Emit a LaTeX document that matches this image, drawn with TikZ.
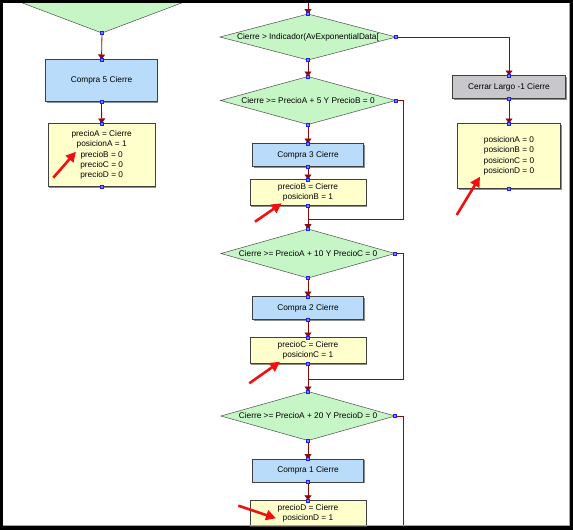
\documentclass[tikz,border=0pt]{standalone}
\usepackage{fontspec}
\setmainfont{Liberation Sans}
\usetikzlibrary{shapes.geometric,arrows.meta,shadows}
\definecolor{cgreen}{RGB}{198,246,198}
\definecolor{cblue}{RGB}{185,220,250}
\definecolor{cyellow}{RGB}{255,255,204}
\definecolor{cgray}{RGB}{200,200,204}
\definecolor{cline}{RGB}{140,10,10}
\definecolor{cport}{RGB}{30,30,240}
\definecolor{cportf}{RGB}{130,130,255}
\definecolor{cred}{RGB}{240,16,16}
\newcommand\portat[1]{\draw[port] ([shift={(-1.5,-1.5)}]#1) rectangle ([shift={(1.5,1.5)}]#1);}
\begin{document}
\begin{tikzpicture}[x=1pt,y=-1pt,
  txt/.style={font=\fontsize{8.3}{10.4}\selectfont, align=center, inner sep=0pt},
  box/.style={txt, draw=black!75, line width=0.6pt, outer sep=0pt,
    drop shadow={shadow xshift=1pt,shadow yshift=-1pt,fill=black!45,opacity=1}},
  act/.style={box, fill=cblue, minimum width=111pt, minimum height=23pt},
  grayact/.style={box, fill=cgray, minimum width=113pt, minimum height=23pt},
  note/.style={box, fill=cyellow, minimum width=116pt, minimum height=26pt},
  cond/.style={diamond, draw=black!70, line width=0.5pt, fill=cgreen, inner sep=0pt, outer sep=0pt,
    minimum width=174pt, minimum height=48pt},
  flow/.style={draw=cline, line width=0.8pt},
  arr/.style={flow, -{Triangle[length=5pt,width=7pt]}},
  port/.style={draw=cport, fill=cportf, line width=0.5pt},
  hint/.style={draw=cred, line width=2.6pt, -{Triangle[length=10pt,width=10pt]}}]
\useasboundingbox (0,0) rectangle (573,530);
\fill[black] (0,0) rectangle (573,530);
\fill[white] (3,3) rectangle (570,526);
\begin{scope}
\clip (3,3) rectangle (570,526);
% left column
\node[cond, minimum width=212pt, minimum height=80pt] (d0) at (102,-7) {};
\node[act, minimum width=111.6pt, minimum height=42pt] (c5) at (101.5,80.5) {Compra 5 Cierre};
\node[note, minimum width=107pt, minimum height=63pt] (p5) at (101.7,155) {precioA = Cierre\\posicionA = 1\\precioB = 0\\precioC = 0\\precioD = 0};
% main column
\coordinate (top) at (308,0);
\node[cond, minimum width=176pt, minimum height=46pt] (d1) at (308,37) {};
\node[txt] (d1t) at (308,37) {Cierre > Indicador(AvExponentialData[};
\node[cond, minimum width=175pt] (d2) at (308,100.5) {};
\node[txt] (d2t) at (308,100.5) {Cierre >= PrecioA + 5 Y PrecioB = 0};
\node[act] (c3) at (308,155) {Compra 3 Cierre};
\node[note] (pB) at (308,192.5) {precioB = Cierre\\posicionB = 1};
\node[cond, minimum height=49pt] (d3) at (308,253.5) {};
\node[txt] (d3t) at (308,253.5) {Cierre >= PrecioA + 10 Y PrecioC = 0};
\node[act] (c2) at (308,308) {Compra 2 Cierre};
\node[note] (pC) at (308,350.5) {precioC = Cierre\\posicionC = 1};
\node[cond, minimum height=49pt] (d4) at (308,416) {};
\node[txt] (d4t) at (308,416) {Cierre >= PrecioA + 20 Y PrecioD = 0};
\node[act] (c1) at (308,470.5) {Compra 1 Cierre};
\node[note] (pD) at (308,513.3) {precioD = Cierre\\posicionD = 1};
% right column
\node[grayact] (cl) at (509,87) {Cerrar Largo -1 Cierre};
\node[note, minimum width=103pt, minimum height=65pt] (pz) at (509,156) {posicionA = 0\\posicionB = 0\\posicionC = 0\\posicionD = 0};
\coordinate (j1) at (308,219);
\coordinate (j2) at (308,379.3);
\coordinate (e4) at (404,540);
% connectors
\draw[arr] (d0.south) -- (c5.north);
\draw[arr] (c5.south) -- (p5.north);
\draw[arr] (top) -- (d1.north);
\draw[arr] (d1.south) -- (d2.north);
\draw[arr] (d2.south) -- (c3.north);
\draw[arr] (c3.south) -- (pB.north);
\draw[arr] (pB.south) -- (d3.north);
\draw[flow] (d2.east) -- ++(8,0) |- (j1);
\draw[arr] (d3.south) -- (c2.north);
\draw[arr] (c2.south) -- (pC.north);
\draw[arr] (pC.south) -- (d4.north);
\draw[flow] (d3.east) -- ++(8,0) |- (j2);
\draw[arr] (d4.south) -- (c1.north);
\draw[arr] (c1.south) -- (pD.north);
\draw[flow] (d4.east) -- ++(8,0) |- (e4);
\draw[arr] (d1.east) -| (cl.north);
\draw[arr] (cl.south) -- (pz.north);
% ports
\portat{d0.south}\portat{c5.north}\portat{c5.south}\portat{p5.north}\portat{p5.south}
\portat{d1.north}\portat{d1.south}\portat{d1.east}
\portat{d2.north}\portat{d2.south}\portat{d2.east}
\portat{c3.north}\portat{c3.south}\portat{pB.north}\portat{pB.south}
\portat{d3.north}\portat{d3.south}\portat{d3.east}
\portat{c2.north}\portat{c2.south}\portat{pC.north}\portat{pC.south}
\portat{d4.north}\portat{d4.south}\portat{d4.east}
\portat{c1.north}\portat{c1.south}\portat{pD.north}
\portat{cl.north}\portat{cl.south}\portat{pz.north}\portat{pz.south}
% red hint arrows
\coordinate (h5a) at (53.3,177.7); \coordinate (h5b) at (76,151.7);
\coordinate (hBa) at (255,221.7);  \coordinate (hBb) at (281.7,203.3);
\coordinate (hCa) at (249.3,383.3); \coordinate (hCb) at (280,361.7);
\coordinate (hDa) at (238.3,505.7); \coordinate (hDb) at (276,518.3);
\coordinate (hZa) at (456.7,215);  \coordinate (hZb) at (480,176.7);
\draw[hint] (h5a) -- (h5b);
\draw[hint] (hBa) -- (hBb);
\draw[hint] (hCa) -- (hCb);
\draw[hint] (hDa) -- (hDb);
\draw[hint] (hZa) -- (hZb);
\end{scope}
\draw[black!35, line width=1pt] (569.5,3) -- (569.5,525.5) -- (3,525.5);
\end{tikzpicture}
\end{document}
